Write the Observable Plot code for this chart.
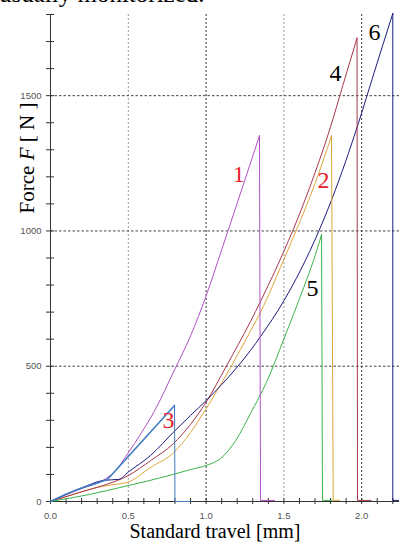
<!DOCTYPE html>
<html><head><meta charset="utf-8">
<script src="https://cdn.jsdelivr.net/npm/d3@7"></script>
<script src="https://cdn.jsdelivr.net/npm/@observablehq/plot@0.6"></script>
<style>
body{margin:0;background:#fff;overflow:hidden;width:399px;height:543px;position:relative}
#chart{position:absolute;left:0;top:0}
#cap{position:absolute;left:-1px;top:-19px;font:25px/25px "Liberation Serif","Times New Roman",serif;white-space:nowrap;color:#000}
</style>
</head><body>
<div id="chart"></div>
<div id="cap">usually monitorized.</div>
<script>
// ---- data ----
const series = ["1", "2", "3", "4", "5", "6"];
const colors = ["#b14fc5", "#e0a53a", "#3f7cc4", "#a8374a", "#3cb44a", "#1c1c80"];

const c1x = [0, 0.1, 0.2, 0.343, 0.42, 0.5, 0.58, 0.664, 0.8, 0.9, 1.0, 1.1, 1.2, 1.28, 1.343];
const c1F = [0, 25, 48, 80, 115, 180, 250, 330, 490, 612, 760, 930, 1103, 1242, 1352];

const c2x = [0, 0.1, 0.2, 0.31, 0.4, 0.5, 0.643, 0.79, 0.9, 1.0, 1.157, 1.285, 1.35, 1.5, 1.585, 1.7, 1.806];
const c2F = [0, 18, 36, 53, 62, 72, 126, 180, 255, 343, 495, 630, 700, 895, 1010, 1175, 1352];

const c3x = [0, 0.1, 0.2, 0.3, 0.366, 0.58, 0.797];
const c3F = [0, 27, 50, 68, 81, 217, 355];

const c4x = [0, 0.1, 0.2, 0.343, 0.5, 0.643, 0.79, 0.9, 1.0, 1.13, 1.285, 1.35, 1.5, 1.56, 1.7, 1.8, 1.88, 1.97];
const c4F = [0, 18, 36, 60, 96, 151, 214, 285, 367, 500, 665, 740, 925, 1005, 1215, 1385, 1540, 1713];

const c5x = [0, 0.25, 0.5, 0.75, 0.9, 1.0, 1.093, 1.19, 1.285, 1.393, 1.5, 1.628, 1.69, 1.742];
const c5F = [0, 26, 59, 94, 118, 133, 159, 225, 325, 447, 601, 792, 890, 986];

const c6x = [0, 0.1, 0.2, 0.34, 0.44, 0.5, 0.643, 0.8, 0.9, 1.0, 1.1, 1.2, 1.285, 1.35, 1.5, 1.607, 1.725, 1.81, 1.98, 2.08, 2.2];
const c6F = [0, 27, 50, 78, 82, 109, 170, 262, 318, 373, 432, 497, 558, 610, 742, 855, 1000, 1120, 1400, 1585, 1804];

// fracture drop and residual tail
const dropX = [1.35, 1.817, 0.80, 1.973, 1.748, 2.2];
const tailX = [1.44, 1.86, 0.90, 2.06, 1.81, 2.243];
const tailF = [4, 4, 0, 4, 4, 4];

// curve number labels
const labelX = [1.21, 1.755, 0.758, 1.832, 1.684, 2.082];
const labelF = [1211, 1186, 299, 1581, 787, 1733];
const labelColor = ["#e8202a", "#e8202a", "#e8202a", "#000", "#000", "#000"];

const xTicks = [0, 0.1, 0.2, 0.3, 0.4, 0.5, 0.6, 0.7, 0.8, 0.9, 1.0, 1.1, 1.2, 1.3, 1.4, 1.5, 1.6, 1.7, 1.8, 1.9, 2.0, 2.1, 2.2];
const xLabels = [0, 0.5, 1.0, 1.5, 2.0];
const yTicks = [0, 100, 200, 300, 400, 500, 600, 700, 800, 900, 1000, 1100, 1200, 1300, 1400, 1500, 1600, 1700, 1800];
const yLabels = [0, 500, 1000, 1500];
const gridDark = [1.0, 2.0];
const gridLight = [0.5, 1.5];
const gridY = [500, 1000, 1500];

// ---- build tables ----
const xs = [c1x, c2x, c3x, c4x, c5x, c6x];
const Fs = [c1F, c2F, c3F, c4F, c5F, c6F];
const rising = series.flatMap((s, i) => xs[i].map((x, j) => ({s, x, F: Fs[i][j]})));
const drops = series.flatMap((s, i) => {
  const n = xs[i].length - 1;
  return [
    {s, x: xs[i][n], F: Fs[i][n]},
    {s, x: dropX[i], F: tailF[i]},
    {s, x: tailX[i], F: tailF[i]}
  ];
});
const labels = series.map((s, i) => ({s, x: labelX[i], F: labelF[i], c: labelColor[i]}));

const sans = "'Liberation Sans', Arial, sans-serif";
const serif = "'Liberation Serif', 'Times New Roman', serif";

const plot = Plot.plot({
  width: 399,
  height: 543,
  marginLeft: 50,
  marginRight: 0,
  marginTop: 14,
  marginBottom: 42,
  style: {background: "transparent", fontFamily: sans, overflow: "visible"},
  x: {domain: [0, 2.243], label: null},
  y: {domain: [0, 1800], label: null},
  color: {domain: series, range: colors},
  marks: [
    Plot.ruleX(gridLight, {stroke: "#999", strokeDasharray: "2,2"}),
    Plot.ruleX(gridDark, {stroke: "#333", strokeDasharray: "2,2"}),
    Plot.ruleY(gridY, {stroke: "#444", strokeDasharray: "2.5,2"}),
    Plot.axisY(yTicks, {tickSize: 8, dx: 4, text: null, stroke: "#333", label: null}),
    Plot.axisY(yLabels, {tickSize: 0, tickPadding: 9, fontSize: 9.5, fill: "#555", fontFamily: sans, tickFormat: d => String(d), label: null}),
    Plot.axisX(xTicks, {tickSize: 6, dy: -3, text: null, stroke: "#333", label: null}),
    Plot.axisX(xLabels, {tickSize: 0, tickPadding: 11, fontSize: 9.5, fill: "#555", fontFamily: sans, tickFormat: d => d.toFixed(1), label: null}),
    Plot.ruleX([0], {stroke: "#333"}),
    Plot.ruleY([0], {stroke: "#333"}),
    Plot.line(rising.filter(d => d.s !== "3"), {x: "x", y: "F", z: "s", stroke: "s", strokeWidth: 1, curve: "monotone-x"}),
    Plot.line(rising.filter(d => d.s === "3"), {x: "x", y: "F", z: "s", stroke: "s", strokeWidth: 1.6, curve: "linear"}),
    Plot.line(drops, {x: "x", y: "F", z: "s", stroke: "s", strokeWidth: 1, curve: "linear"}),
    Plot.text(labels, {x: "x", y: "F", text: "s", fill: "c", fontSize: 24, fontFamily: serif})
  ]
});
document.getElementById("chart").appendChild(plot);

const svg = d3.select(plot);
// x axis title
svg.append("text")
  .attr("x", 215).attr("y", 538)
  .attr("text-anchor", "middle")
  .attr("font-family", serif).attr("font-size", 20).attr("fill", "#000")
  .text("Standard travel [mm]");
// y axis title with italic F
const yt = svg.append("text")
  .attr("transform", "translate(33.5,158) rotate(-90)")
  .attr("text-anchor", "middle")
  .attr("font-family", serif).attr("font-size", 21).attr("fill", "#000");
yt.append("tspan").text("Force ");
yt.append("tspan").attr("font-style", "italic").text("F");
yt.append("tspan").text(" [ N ]");
</script>
</body></html>
